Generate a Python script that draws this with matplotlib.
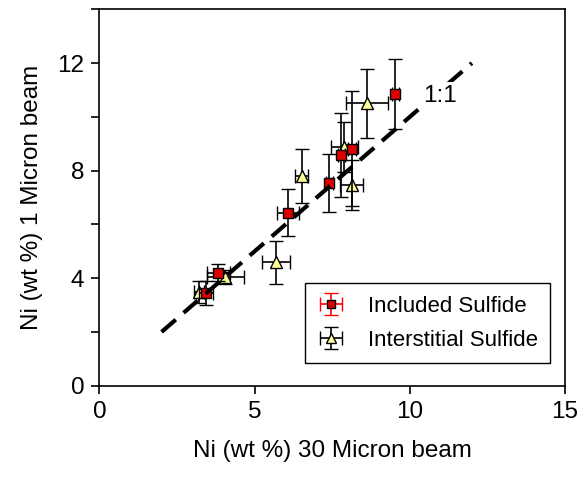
import numpy as np
import matplotlib
matplotlib.use('Agg')
import matplotlib.pyplot as plt
from matplotlib import ticker

plt.rcParams['font.family'] = ['Liberation Sans', 'DejaVu Sans']

# Included sulfide (red squares)
inc_x = [9.53, 8.13, 7.79, 7.41, 6.07, 3.83, 3.44]
inc_y = [10.85, 8.82, 8.57, 7.54, 6.44, 4.20, 3.46]
inc_xerr = [0.12, 0.12, 0.12, 0.12, 0.36, 0.36, 0.23]
inc_yerr = [1.31, 2.13, 1.56, 1.08, 0.87, 0.31, 0.45]

# Interstitial sulfide (yellow triangles)
int_x = [8.62, 7.89, 8.13, 6.52, 5.69, 4.05, 3.22]
int_y = [10.50, 8.88, 7.45, 7.79, 4.60, 4.04, 3.48]
int_xerr = [0.68, 0.43, 0.37, 0.21, 0.45, 0.60, 0.16]
int_yerr = [1.28, 0.94, 0.93, 1.00, 0.80, 0.27, 0.40]

line_x = [2, 12]
line_y = [2, 12]

fig = plt.figure(figsize=(5.87, 4.84), dpi=100)
ax = fig.add_axes([0.1695, 0.2031, 0.7930, 0.7777])

ekw = dict(ecolor='black', elinewidth=1.2, capsize=5, capthick=1.2, linestyle='none')
ax.errorbar(int_x, int_y, xerr=int_xerr, yerr=int_yerr, marker='^', ms=8.5,
            mfc='#ffff99', mec='black', mew=1.0, zorder=3, **ekw)
ax.errorbar(inc_x, inc_y, xerr=inc_xerr, yerr=inc_yerr, marker='s', ms=6.5,
            mfc='#dd0000', mec='black', mew=1.0, zorder=4, **ekw)

ax.plot(line_x, line_y, color='black', lw=3, dashes=(4.5, 2.5), zorder=5)
ax.text(10.43, 10.55, '1:1', fontsize=17.5, zorder=6,
        bbox=dict(facecolor='white', edgecolor='none', pad=2))

# legend handles (red error bars for included sulfide)
h1 = ax.errorbar([np.nan], [np.nan], xerr=[1], yerr=[1], marker='s', ms=5.5,
                 mfc='#dd0000', mec='black', mew=1.0, ecolor='red',
                 elinewidth=1.2, capsize=5, capthick=1.2, linestyle='none')
h2 = ax.errorbar([np.nan], [np.nan], xerr=[1], yerr=[1], marker='^', ms=7,
                 mfc='#ffff99', mec='black', mew=1.0, **ekw)
leg = ax.legend([h1, h2], ['Included Sulfide', 'Interstitial Sulfide'],
                loc='lower right', bbox_to_anchor=(0.968, 0.06), borderaxespad=0,
                fontsize=16, fancybox=False, edgecolor='black', framealpha=1,
                handlelength=1.3, handletextpad=1.0, borderpad=0.55,
                labelspacing=0.6)
leg.get_frame().set_linewidth(1.0)

ax.set_xlim(0, 15)
ax.set_ylim(0, 14)
ax.set_xticks([0, 5, 10, 15])
ax.set_yticks(np.arange(0, 15, 2))
ax.yaxis.set_major_formatter(ticker.FuncFormatter(
    lambda v, p: '%d' % v if int(round(v)) % 4 == 0 and v < 13 else ''))
ax.tick_params(direction='out', length=6, width=1.2, labelsize=17.5, pad=5)
for s in ax.spines.values():
    s.set_linewidth(1.2)

ax.set_xlabel('Ni (wt %) 30 Micron beam', fontsize=17.5, labelpad=12)
ax.set_ylabel('Ni (wt %) 1 Micron beam', fontsize=17.5, labelpad=10)

fig.savefig('out.png', dpi=100)
